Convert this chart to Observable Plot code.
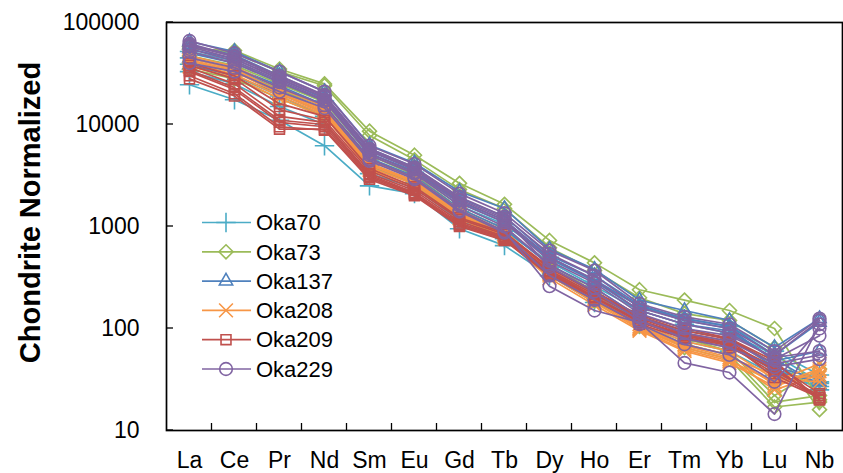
<!DOCTYPE html>
<html><head><meta charset="utf-8">
<script src="https://cdn.jsdelivr.net/npm/d3@7"></script>
<script src="https://cdn.jsdelivr.net/npm/@observablehq/plot@0.6"></script>
<style>
body{margin:0;background:#fff;}
#wrap{position:relative;width:843px;height:473px;font-family:"Liberation Sans",Arial,sans-serif;}
#legend{position:absolute;left:0;top:0;pointer-events:none;}
</style></head><body><div id="wrap"></div>
<script>
// REE elements (x categories)
const elements = ["La","Ce","Pr","Nd","Sm","Eu","Gd","Tb","Dy","Ho","Er","Tm","Yb","Lu","Nb"];
const groups = ["Oka70","Oka73","Oka137","Oka208","Oka209","Oka229"];
const colors = ["#4BACC6","#9BBB59","#4F81BD","#F79646","#C0504D","#8064A2"];
const symbols = ["plus","diamond2","triangle2","times","square2","circle"];
const yTicks = [10,100,1000,10000,100000];

// chondrite-normalized values, one row per sample (La..Nb)
const oka70 = [
  [24500,17500,11000,6200,2500,2100,950,650,330,180,110,75,60,35,27],
  [33000,25000,15000,10000,3300,2400,1150,760,400,220,130,95,80,45,25],
  [45000,35000,22000,14000,4500,3000,1400,900,450,260,150,110,90,55,30],
  [52000,42000,26000,17000,5200,3400,1600,1050,500,290,165,125,105,60,35],
  [39000,30000,19000,12000,4000,2700,1250,820,380,210,120,85,70,40,29]
];
const oka73 = [
  [55000,53000,35000,25000,8600,5000,2650,1650,730,440,240,190,150,100,20],
  [58000,50000,33000,24000,7800,4500,2300,1500,620,370,200,140,120,65,16],
  [40000,33000,22000,15000,4600,3000,1400,850,380,200,110,70,55,19,22],
  [47000,38000,25000,16500,5000,3200,1500,950,430,230,120,80,60,22,40],
  [35000,28000,18000,12000,3900,2600,1200,780,350,185,105,65,50,17,19]
];
const oka137 = [
  [65000,52000,33000,21000,6300,4200,2200,1500,600,380,190,150,120,65,125],
  [60000,48000,30000,19000,5800,3800,1900,1250,520,330,170,125,105,55,115],
  [50000,40000,26000,17000,5200,3500,1700,1100,480,290,150,110,95,50,28],
  [45000,36000,24000,15500,4700,3100,1500,950,420,250,130,95,80,42,32],
  [55000,44000,28000,18000,5500,3600,1750,1150,500,300,165,120,100,48,60],
  [38000,30000,20000,13000,4000,2700,1300,800,360,210,115,85,70,38,30]
];
const oka208 = [
  [45000,35000,21000,14000,4200,2800,1350,850,360,200,105,70,55,28,40],
  [42000,33000,20000,13000,4000,2700,1300,820,340,190,100,65,50,25,35],
  [40000,31000,19000,12500,3800,2600,1250,800,330,180,98,62,48,30,45],
  [47000,37000,22500,15000,4500,3000,1450,900,380,210,110,75,60,32,30],
  [37000,29000,18000,12000,3600,2450,1200,760,310,170,95,60,46,27,38],
  [43000,34000,20500,13500,4100,2750,1320,840,350,195,102,68,52,35,33]
];
const oka209 = [
  [30000,20000,9500,8800,2900,2000,1000,730,330,190,110,80,65,40,21],
  [33000,22000,10500,9500,3100,2100,1050,760,350,200,120,85,70,42,20],
  [36000,25000,12000,10500,3300,2250,1120,800,370,215,125,90,75,38,22],
  [28000,19000,9000,9000,3000,2050,1020,740,340,200,115,82,68,36,21],
  [38000,28000,14000,11000,3500,2350,1180,840,390,225,130,95,78,45,23],
  [40000,30000,16000,12000,3700,2450,1220,870,400,230,135,100,80,48,20],
  [34000,23000,11000,10000,3200,2150,1080,780,360,205,118,88,72,33,21]
];
const oka229 = [
  [66000,50000,33000,21000,6200,4100,2100,1350,580,370,175,130,110,60,125],
  [62000,47000,30000,19500,5800,3800,1950,1250,540,330,160,120,100,55,120],
  [58000,44000,28000,18500,5500,3600,1800,1150,500,300,150,110,90,50,85],
  [55000,42000,27000,17500,5200,3400,1700,1100,460,280,140,100,85,52,60],
  [52000,40000,26000,17000,5000,3300,1600,1000,420,250,130,90,75,45,55],
  [45000,36000,23000,15500,4600,3000,1450,900,260,150,115,46,37,14.5,110],
  [60000,46000,29000,19000,5600,3700,1850,1200,400,230,120,80,65,42,50],
  [40000,33000,21000,14500,4400,2900,1400,870,330,190,110,70,55,30,100]
];

const samples = [oka70, oka73, oka137, oka208, oka209, oka229];
const rows = [];
groups.forEach((g, gi) => samples[gi].forEach((vals, si) =>
  vals.forEach((v, ei) => rows.push({group: g, sample: g + "-" + si, element: elements[ei], value: v}))));

// inward ticks on the left and bottom axes, positioned with Plot's scales
function innerTicks(index, scales, values, dims) {
  const {x, y} = scales;
  const g = d3.create("svg:g").attr("stroke", "#000").attr("stroke-width", 1.3);
  const x0 = dims.marginLeft, y0 = dims.height - dims.marginBottom;
  for (const t of yTicks) {
    g.append("line").attr("x1", x0).attr("x2", x0 + 7).attr("y1", y(t)).attr("y2", y(t));
  }
  for (let i = 0; i < elements.length - 1; i++) {
    const bx = (x(elements[i]) + x(elements[i + 1])) / 2;
    g.append("line").attr("x1", bx).attr("x2", bx).attr("y1", y0).attr("y2", y0 - 7);
  }
  return g.node();
}

const marks = [];
groups.forEach(g => {
  const d = rows.filter(r => r.group === g);
  marks.push(Plot.line(d, {x: "element", y: "value", z: "sample", stroke: "group", strokeWidth: 1.7}));
  marks.push(Plot.dot(d, {x: "element", y: "value", stroke: "group", symbol: "group", fill: "none", r: 6.3, strokeWidth: 1.6}));
});

const chart = Plot.plot({
  width: 843, height: 473,
  marginLeft: 166, marginRight: 1, marginTop: 22, marginBottom: 43,
  style: {fontFamily: "'Liberation Sans', Arial, sans-serif", color: "#000", background: "#fff"},
  x: {type: "point", domain: elements, padding: 0.5},
  y: {type: "log", domain: [10, 100000]},
  color: {domain: groups, range: colors},
  symbol: {domain: groups, range: symbols},
  marks: [
    ...marks,
    Plot.axisY({ticks: yTicks, tickFormat: d => String(d), tickSize: 0, tickPadding: 27, fontSize: 23, label: null}),
    Plot.axisX({tickSize: 0, tickPadding: 21, fontSize: 23, label: null}),
    Plot.text(["Chondrite Normalized"], {text: d => d, frameAnchor: "left", dx: -136, dy: -14, rotate: -90, fontSize: 29, fontWeight: "bold", textAnchor: "middle"}),
    innerTicks,
    Plot.frame({stroke: "#000", strokeWidth: 1.7})
  ]
});
document.getElementById("wrap").appendChild(chart);

// legend inside the plot area
const symMap = {plus: d3.symbolPlus, diamond2: d3.symbolDiamond2, triangle2: d3.symbolTriangle2, times: d3.symbolTimes, square2: d3.symbolSquare2, circle: d3.symbolCircle};
const leg = d3.select("#wrap").append("svg").attr("id", "legend").attr("width", 843).attr("height", 473);
groups.forEach((g, i) => {
  const yy = 222.5 + i * 29.3;
  const row = leg.append("g").attr("transform", `translate(0,${yy})`);
  row.append("line").attr("x1", 202).attr("x2", 251).attr("stroke", colors[i]).attr("stroke-width", 1.7);
  row.append("path").attr("transform", "translate(226,0)").attr("d", d3.symbol(symMap[symbols[i]], Math.PI * 40)())
    .attr("fill", "none").attr("stroke", colors[i]).attr("stroke-width", 1.6);
  row.append("text").attr("x", 256).attr("dy", "0.35em").attr("font-size", 22)
    .attr("font-family", "'Liberation Sans', Arial, sans-serif").attr("fill", "#000").text(g);
});
</script></body></html>
